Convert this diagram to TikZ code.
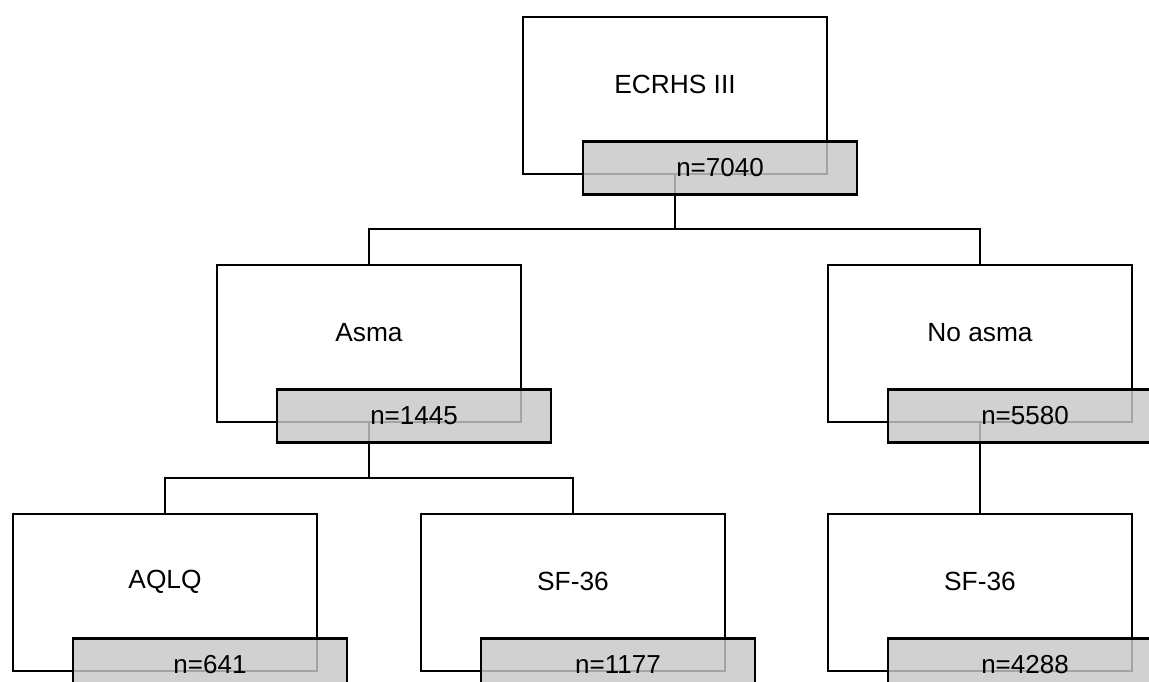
\documentclass[tikz,border=0pt]{standalone}
\usepackage{fontspec}
\setmainfont{Liberation Sans}
\usetikzlibrary{positioning}
\tikzset{
  mainbox/.style={draw,fill=white,line width=2.4pt,minimum width=304pt,minimum height=157pt,inner sep=0pt},
  countbox/.style={draw,line width=2.4pt,fill=black!22,fill opacity=0.82,text opacity=1,
    minimum width=274pt,minimum height=53pt,inner sep=0pt,anchor=north west,
    font=\fontsize{26}{29}\selectfont},
  boxlabel/.style={font=\fontsize{26.3}{29}\selectfont,yshift=11pt},
  treeline/.style={line width=2.4pt}
}
\begin{document}
\begin{tikzpicture}[x=1pt,y=-1pt]
  \useasboundingbox (0,0) rectangle (1149,682);
  \clip (0,0) rectangle (1149,682);
  % study groups
  \node[mainbox,label={[boxlabel]center:ECRHS III}] (ecrhs) at (675,95.5) {};
  \node[mainbox,label={[boxlabel]center:Asma}] (asma) at (369,343.5) {};
  \node[mainbox,label={[boxlabel]center:No asma}] (noasma) at (980,343.5) {};
  \node[mainbox,label={[boxlabel]center:AQLQ}] (aqlq) at (165,592.5) {};
  \node[mainbox,label={[boxlabel]center:SF-36}] (sfa) at (573,592.5) {};
  \node[mainbox,label={[boxlabel]center:SF-36}] (sfb) at (980,592.5) {};
  % tree
  \draw[treeline] (ecrhs.south) -- ++(0,54) -| (asma.north);
  \draw[treeline] (ecrhs.south) -- ++(0,54) -| (noasma.north);
  \draw[treeline] (asma.south) -- ++(0,55) -| (aqlq.north);
  \draw[treeline] (asma.south) -- ++(0,55) -| (sfa.north);
  \draw[treeline] (noasma.south) -- (sfb.north);
  % counts
  \foreach \b/\n in {ecrhs/7040,asma/1445,noasma/5580,aqlq/641,sfa/1177,sfb/4288}
    \node[countbox] (n\b) at ([xshift=60pt,yshift=35pt]\b.south west) {n=\n};
\end{tikzpicture}
\end{document}
